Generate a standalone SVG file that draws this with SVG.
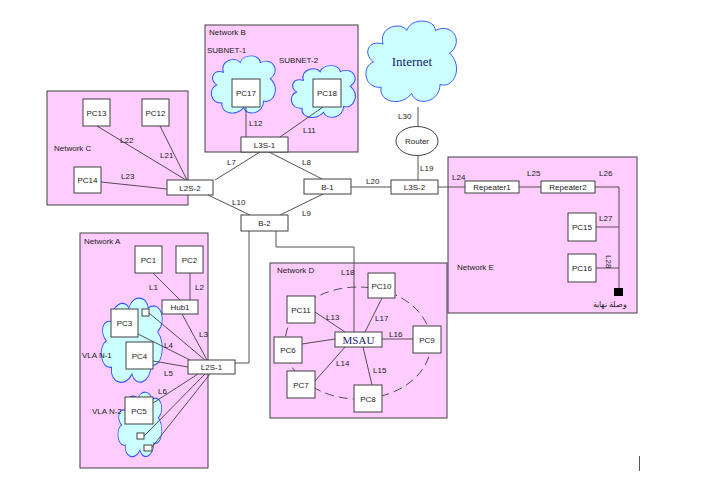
<svg xmlns="http://www.w3.org/2000/svg" width="720" height="479" viewBox="0 0 720 479">
<style>
.net{fill:#ffccff;stroke:#404040;stroke-width:1}
.box{fill:#ffffff;stroke:#404040;stroke-width:1}
.cloud{fill:#ccffff;stroke:#3355ff;stroke-width:1}
.ln{stroke:#404040;stroke-width:0.9;fill:none}
.t{font-family:"Liberation Sans",Arial,sans-serif;font-size:8px;fill:#222}
.c{text-anchor:middle}
.s{font-family:"Liberation Serif","Times New Roman",serif;fill:#1a1a70;text-anchor:middle}
</style>
<defs>
<path id="cl" d="M 20,30 C 15,10 40,5 45,15 C 50,0 75,2 75,15 C 95,5 105,30 90,40 C 105,55 95,80 80,75 C 80,95 55,100 50,85 C 40,100 15,95 18,78 C 0,80 -3,55 10,50 C -2,40 5,25 20,30 Z"/>
</defs>
<rect width="720" height="479" fill="#ffffff"/>

<!-- Network areas -->
<g id="networkB"><rect class="net" x="205" y="25" width="153" height="127"/><text class="t" x="209" y="35">Network B</text>
<text class="t" x="207" y="53">SUBNET-1</text><text class="t" x="279" y="63">SUBNET-2</text></g>
<g id="networkC"><rect class="net" x="47" y="91" width="141" height="114"/><text class="t" x="54" y="151">Network C</text></g>
<g id="networkA"><rect class="net" x="80" y="233" width="128" height="235"/><text class="t" x="84" y="244">Network A</text></g>
<g id="networkD"><rect class="net" x="270" y="263" width="177" height="155"/><text class="t" x="277" y="273">Network D</text></g>
<g id="networkE"><rect class="net" x="448" y="157" width="189" height="156"/><text class="t" x="457" y="270">Network E</text></g>

<!-- Clouds -->
<g id="internet"><use href="#cl" class="cloud" transform="translate(364,17) scale(0.95,0.9)" vector-effect="non-scaling-stroke" style="stroke-width:1.05"/><text class="s" x="412" y="66" font-size="13">Internet</text></g>
<g id="subnet1"><use href="#cl" class="cloud" transform="translate(210,53) scale(0.67,0.64)" style="stroke-width:1.5"/></g>
<g id="subnet2"><use href="#cl" class="cloud" transform="translate(290,63) scale(0.67,0.58)" style="stroke-width:1.6"/></g>
<g id="vlan1"><use href="#cl" class="cloud" transform="translate(100,294) scale(0.64,0.94)" style="stroke-width:1.3"/><text class="t" x="82" y="358">VLA N-1</text></g>
<g id="vlan2"><use href="#cl" class="cloud" transform="translate(117,389) scale(0.46,0.72)" style="stroke-width:1.7"/><text class="t" x="92" y="414">VLA N-2</text></g>

<!-- Connectors -->
<g id="connectors">
<!-- dashed ring -->
<ellipse cx="358" cy="343" rx="73" ry="56" class="ln" stroke-dasharray="9,5"/>
<!-- Network B -->
<line class="ln" x1="246" y1="107" x2="246" y2="137"/>
<line class="ln" x1="323" y1="107" x2="280" y2="137"/>
<!-- Network C -->
<line class="ln" x1="97" y1="126" x2="186" y2="180"/>
<line class="ln" x1="160" y1="126" x2="187" y2="180"/>
<line class="ln" x1="101" y1="182" x2="167" y2="189"/>
<!-- core -->
<line class="ln" x1="215" y1="180" x2="260" y2="152"/>
<line class="ln" x1="269" y1="152" x2="322" y2="179"/>
<line class="ln" x1="208" y1="195" x2="250" y2="215"/>
<line class="ln" x1="323" y1="194" x2="280" y2="215"/>
<line class="ln" x1="351" y1="187" x2="391" y2="187"/>
<line class="ln" x1="418" y1="107" x2="418" y2="127"/>
<line class="ln" x1="418" y1="156" x2="418" y2="180"/>
<line class="ln" x1="438" y1="187" x2="465" y2="187"/>
<!-- Network E -->
<line class="ln" x1="519" y1="187" x2="541" y2="187"/>
<polyline class="ln" points="595,187 619,187 619,292"/>
<line class="ln" x1="596" y1="227" x2="619" y2="227"/>
<line class="ln" x1="596" y1="268" x2="619" y2="268"/>
<!-- B-2 to L2S-1 and MSAU -->
<polyline class="ln" points="249,231 249,363 234,363"/>
<polyline class="ln" points="276,231 276,247 354,247 354,332"/>
<!-- Network A -->
<line class="ln" x1="153" y1="273" x2="180" y2="300"/>
<line class="ln" x1="190" y1="273" x2="190" y2="300"/>
<line class="ln" x1="182" y1="314" x2="207" y2="360"/>
<line class="ln" x1="149" y1="313" x2="205" y2="360"/>
<line class="ln" x1="138" y1="334" x2="190" y2="360"/>
<line class="ln" x1="153" y1="361" x2="188" y2="367"/>
<line class="ln" x1="153" y1="403" x2="198" y2="374"/>
<line class="ln" x1="144" y1="436" x2="205" y2="374"/>
<line class="ln" x1="152" y1="447" x2="210" y2="374"/>
<!-- Network D -->
<line class="ln" x1="315" y1="312" x2="345" y2="332"/>
<line class="ln" x1="382" y1="298" x2="365" y2="332"/>
<line class="ln" x1="382" y1="339" x2="413" y2="339"/>
<line class="ln" x1="363" y1="347" x2="372" y2="385"/>
<line class="ln" x1="345" y1="347" x2="315" y2="381"/>
<line class="ln" x1="302" y1="344" x2="335" y2="339"/>
<!-- labels -->
<text class="t" x="249" y="126">L12</text>
<text class="t" x="303" y="133">L11</text>
<text class="t" x="120" y="143">L22</text>
<text class="t" x="160" y="158">L21</text>
<text class="t" x="121" y="179">L23</text>
<text class="t" x="227" y="165">L7</text>
<text class="t" x="302" y="165">L8</text>
<text class="t" x="232" y="205">L10</text>
<text class="t" x="302" y="216">L9</text>
<text class="t" x="366" y="184">L20</text>
<text class="t" x="398" y="119">L30</text>
<text class="t" x="420" y="171">L19</text>
<text class="t" x="452" y="180">L24</text>
<text class="t" x="527" y="176">L25</text>
<text class="t" x="599" y="176">L26</text>
<text class="t" x="599" y="221">L27</text>
<text class="t" transform="translate(606,255) rotate(90)">L28</text>
<text class="t" x="149" y="290">L1</text>
<text class="t" x="195" y="290">L2</text>
<text class="t" x="199" y="337">L3</text>
<text class="t" x="164" y="348">L4</text>
<text class="t" x="164" y="376">L5</text>
<text class="t" x="158" y="394">L6</text>
<text class="t" x="341" y="275">L18</text>
<text class="t" x="326" y="320">L13</text>
<text class="t" x="375" y="321">L17</text>
<text class="t" x="389" y="337">L16</text>
<text class="t" x="336" y="366">L14</text>
<text class="t" x="373" y="373">L15</text>
</g>

<!-- Nodes -->
<g id="PC17"><rect class="box" x="232" y="79" width="28" height="28"/><text class="t c" x="246" y="96">PC17</text></g>
<g id="PC18"><rect class="box" x="313" y="79" width="28" height="28"/><text class="t c" x="327" y="96">PC18</text></g>
<g id="L3S-1"><rect class="box" x="241" y="137" width="47" height="15"/><text class="t c" x="264.5" y="147.5">L3S-1</text></g>
<g id="PC13"><rect class="box" x="83" y="99" width="27" height="27"/><text class="t c" x="96.5" y="115.5">PC13</text></g>
<g id="PC12"><rect class="box" x="142" y="99" width="27" height="27"/><text class="t c" x="155.5" y="115.5">PC12</text></g>
<g id="PC14"><rect class="box" x="74" y="167" width="27" height="26"/><text class="t c" x="87.5" y="183">PC14</text></g>
<g id="L2S-2"><rect class="box" x="167" y="180" width="46" height="15"/><text class="t c" x="190" y="190.5">L2S-2</text></g>
<g id="B-1"><rect class="box" x="304" y="179" width="47" height="15"/><text class="t c" x="327.5" y="189.5">B-1</text></g>
<g id="B-2"><rect class="box" x="241" y="215" width="47" height="16"/><text class="t c" x="264.5" y="226">B-2</text></g>
<g id="Router"><ellipse class="box" cx="417" cy="141" rx="21" ry="14.5"/><text class="t c" x="417" y="144">Router</text></g>
<g id="L3S-2"><rect class="box" x="391" y="180" width="47" height="14"/><text class="t c" x="414.5" y="190">L3S-2</text></g>
<g id="Repeater1"><rect class="box" x="465" y="181" width="54" height="12"/><text class="t c" x="492" y="190">Repeater1</text></g>
<g id="Repeater2"><rect class="box" x="541" y="181" width="54" height="12"/><text class="t c" x="568" y="190">Repeater2</text></g>
<g id="PC15"><rect class="box" x="568" y="213" width="28" height="28"/><text class="t c" x="582" y="230">PC15</text></g>
<g id="PC16"><rect class="box" x="568" y="254" width="28" height="28"/><text class="t c" x="582" y="271">PC16</text></g>
<g id="terminator"><rect x="614" y="288" width="9" height="8" fill="#000"/><text class="t c" x="610" y="307" font-family="'Noto Sans','DejaVu Sans',sans-serif" font-size="7">وصلة نهاية</text></g>
<g id="PC1"><rect class="box" x="135" y="246" width="27" height="27"/><text class="t c" x="148.5" y="262.5">PC1</text></g>
<g id="PC2"><rect class="box" x="176" y="246" width="27" height="27"/><text class="t c" x="189.5" y="262.5">PC2</text></g>
<g id="Hub1"><rect class="box" x="162" y="300" width="36" height="14"/><text class="t c" x="180" y="310">Hub1</text></g>
<g id="PC3"><rect class="box" x="111" y="309" width="27" height="28"/><text class="t c" x="124.5" y="326">PC3</text></g>
<g id="sqA"><rect class="box" x="142" y="309" width="7" height="7"/></g>
<g id="PC4"><rect class="box" x="126" y="342" width="27" height="27"/><text class="t c" x="139.5" y="358.5">PC4</text></g>
<g id="L2S-1"><rect class="box" x="188" y="360" width="47" height="14"/><text class="t c" x="211.5" y="370">L2S-1</text></g>
<g id="PC5"><rect class="box" x="125" y="397" width="28" height="27"/><text class="t c" x="139" y="413.5">PC5</text></g>
<g id="sqB"><rect class="box" x="137" y="433" width="7" height="6"/></g>
<g id="sqC"><rect class="box" x="144" y="445" width="8" height="6"/></g>
<g id="MSAU"><rect class="box" x="335" y="332" width="47" height="15"/><text class="s" x="358.5" y="343.5" font-size="11">MSAU</text></g>
<g id="PC10"><rect class="box" x="368" y="273" width="27" height="25"/><text class="t c" x="381.5" y="288.5">PC10</text></g>
<g id="PC11"><rect class="box" x="287" y="296" width="28" height="27"/><text class="t c" x="301" y="312.5">PC11</text></g>
<g id="PC6"><rect class="box" x="274" y="337" width="28" height="26"/><text class="t c" x="288" y="353">PC6</text></g>
<g id="PC7"><rect class="box" x="287" y="371" width="28" height="27"/><text class="t c" x="301" y="387.5">PC7</text></g>
<g id="PC8"><rect class="box" x="354" y="385" width="28" height="27"/><text class="t c" x="368" y="401.5">PC8</text></g>
<g id="PC9"><rect class="box" x="413" y="326" width="28" height="27"/><text class="t c" x="427" y="342.5">PC9</text></g>
<line x1="639.5" y1="456" x2="639.5" y2="471" stroke="#555" stroke-width="1"/>
</svg>
